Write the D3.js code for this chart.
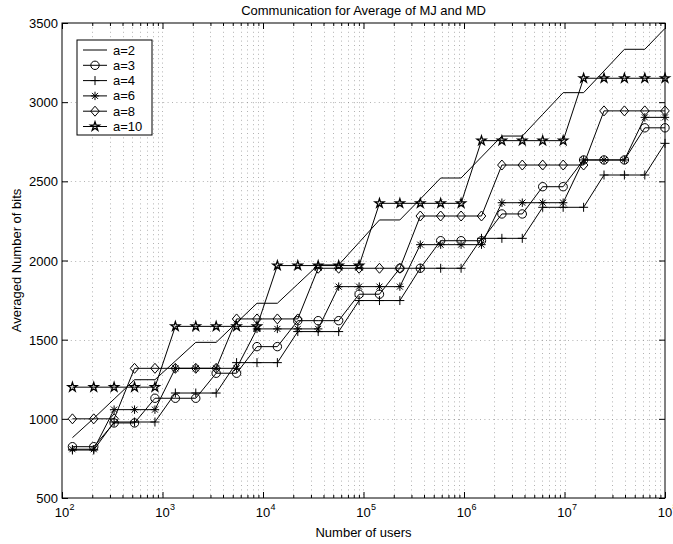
<!DOCTYPE html>
<html>
<head>
<meta charset="utf-8">
<script src="https://cdn.jsdelivr.net/npm/d3@7"></script>
<style>
  body { margin: 0; background: #fff; }
  svg { display: block; }
  text { font-family: "Liberation Sans", Arial, Helvetica, sans-serif; fill: #000; }
</style>
</head>
<body>
<svg id="chart" width="673" height="544"></svg>
<script>
// Number of users at each sample point
const users = [127, 207, 330, 527, 841, 1343, 2143, 3420, 5460, 8713,
  13900, 22190, 35410, 56620, 90360, 144200, 230100, 367300, 586100, 935400,
  1493000, 2382000, 3802000, 6067000, 9700000, 15490000, 24720000, 39450000, 62950000, 100000000];

// Averaged number of bits for each base a
const bitsA2 = [881, 1003, 1125, 1247, 1247, 1365, 1483, 1483, 1607, 1730,
  1730, 1851, 1972, 1972, 2114, 2256, 2256, 2388, 2521, 2521,
  2654, 2786, 2786, 2923, 3060, 3060, 3197, 3334, 3334, 3466];
const bitsA3 = [824, 824, 974, 974, 1130, 1130, 1130, 1288, 1288, 1456,
  1456, 1620, 1620, 1620, 1787, 1787, 1951, 1951, 2125, 2125,
  2125, 2294, 2294, 2466, 2466, 2635, 2635, 2635, 2838, 2838];
const bitsA4 = [803, 803, 980, 980, 980, 1163, 1163, 1163, 1355, 1355,
  1355, 1551, 1551, 1551, 1747, 1747, 1747, 1951, 1951, 1951,
  2140, 2140, 2140, 2336, 2336, 2336, 2540, 2540, 2540, 2740];
const bitsA6 = [808, 808, 1058, 1058, 1058, 1319, 1319, 1319, 1319, 1568,
  1568, 1568, 1568, 1835, 1835, 1835, 1835, 2100, 2100, 2100,
  2100, 2365, 2365, 2365, 2365, 2635, 2635, 2635, 2904, 2904];
const bitsA8 = [1000, 1000, 1000, 1319, 1319, 1319, 1319, 1319, 1631, 1631,
  1631, 1631, 1951, 1951, 1951, 1951, 1951, 2281, 2281, 2281,
  2281, 2603, 2603, 2603, 2603, 2603, 2945, 2945, 2945, 2945];
const bitsA10 = [1200, 1200, 1200, 1200, 1200, 1584, 1584, 1584, 1584, 1584,
  1968, 1968, 1968, 1968, 1968, 2361, 2361, 2361, 2361, 2361,
  2757, 2757, 2757, 2757, 2757, 3151, 3151, 3151, 3151, 3151];

const seriesNames = ["a=2", "a=3", "a=4", "a=6", "a=8", "a=10"];
const seriesValues = [bitsA2, bitsA3, bitsA4, bitsA6, bitsA8, bitsA10];
const seriesMarkers = ["none", "circle", "plus", "asterisk", "diamond", "star"];

const yTicks = [500, 1000, 1500, 2000, 2500, 3000, 3500];
const xDecades = [1e2, 1e3, 1e4, 1e5, 1e6, 1e7, 1e8];
const xExponents = ["2", "3", "4", "5", "6", "7", "8"];

const titleText = "Communication for Average of MJ and MD";
const xLabelText = "Number of users";
const yLabelText = "Averaged Number of bits";

// ---- layout ----
const plotLeft = 62, plotRight = 665, plotTop = 23, plotBottom = 498;
const svg = d3.select("#chart");

const x = d3.scaleLog().domain([1e2, 1e8]).range([plotLeft, plotRight]);
const y = d3.scaleLinear().domain([500, 3500]).range([plotBottom, plotTop]);

// minor log ticks 2..9 within each decade
const xMinor = [];
xDecades.slice(0, -1).forEach(d => { for (let m = 2; m <= 9; m++) xMinor.push(d * m); });

// ---- grid ----
const grid = svg.append("g").attr("stroke", "#000").attr("stroke-width", 0.6)
  .attr("stroke-dasharray", "1,3.4").attr("opacity", 0.5);
grid.selectAll("line.v").data(xDecades.slice(1, -1).concat(xMinor)).join("line")
  .attr("x1", d => Math.round(x(d)) + 0.5).attr("x2", d => Math.round(x(d)) + 0.5)
  .attr("y1", plotTop).attr("y2", plotBottom);
grid.selectAll("line.h").data(yTicks.slice(1, -1)).join("line")
  .attr("x1", plotLeft).attr("x2", plotRight)
  .attr("y1", d => Math.round(y(d)) + 0.5).attr("y2", d => Math.round(y(d)) + 0.5);

// ---- axes ----
function styleAxis(g) {
  g.select(".domain").remove();
  g.selectAll(".tick line").attr("stroke", "#000").attr("stroke-width", 1);
}
const fmtNone = () => "";

const xAxisB = svg.append("g").attr("transform", `translate(0,${plotBottom})`)
  .call(d3.axisBottom(x).tickValues(xDecades).tickSizeInner(-6).tickSizeOuter(0).tickFormat(fmtNone));
styleAxis(xAxisB);
const xAxisBm = svg.append("g").attr("transform", `translate(0,${plotBottom})`)
  .call(d3.axisBottom(x).tickValues(xMinor).tickSizeInner(-3).tickSizeOuter(0).tickFormat(fmtNone));
styleAxis(xAxisBm);
const xAxisT = svg.append("g").attr("transform", `translate(0,${plotTop})`)
  .call(d3.axisTop(x).tickValues(xDecades).tickSizeInner(-6).tickSizeOuter(0).tickFormat(fmtNone));
styleAxis(xAxisT);
const xAxisTm = svg.append("g").attr("transform", `translate(0,${plotTop})`)
  .call(d3.axisTop(x).tickValues(xMinor).tickSizeInner(-3).tickSizeOuter(0).tickFormat(fmtNone));
styleAxis(xAxisTm);

const yAxisL = svg.append("g").attr("transform", `translate(${plotLeft},0)`)
  .call(d3.axisLeft(y).tickValues(yTicks).tickSizeInner(-6).tickSizeOuter(0).tickPadding(4).tickFormat(d3.format("d")));
styleAxis(yAxisL);
yAxisL.selectAll(".tick text").attr("font-size", 13).attr("dy", "0.35em");
const yAxisR = svg.append("g").attr("transform", `translate(${plotRight},0)`)
  .call(d3.axisRight(y).tickValues(yTicks).tickSizeInner(-6).tickSizeOuter(0).tickFormat(fmtNone));
styleAxis(yAxisR);

// x tick labels as 10 with a superscript exponent
const xLab = svg.append("g");
xDecades.forEach((d, i) => {
  const cx = x(d);
  xLab.append("text").attr("x", cx).attr("y", plotBottom + 19).attr("text-anchor", "middle")
    .attr("font-size", 13).text("10");
  xLab.append("text").attr("x", cx + 7.5).attr("y", plotBottom + 12).attr("text-anchor", "start")
    .attr("font-size", 9).text(xExponents[i]);
});

// frame
svg.append("rect").attr("x", plotLeft).attr("y", plotTop)
  .attr("width", plotRight - plotLeft).attr("height", plotBottom - plotTop)
  .attr("fill", "none").attr("stroke", "#000").attr("stroke-width", 1);

// ---- markers ----
function markerPath(type) {
  switch (type) {
    case "circle": return d3.symbol(d3.symbolCircle, Math.PI * 4.2 * 4.2)();
    case "star": return d3.symbol(d3.symbolStar, 25)();
    case "diamond": return "M0,-5L4.3,0L0,5L-4.3,0Z";
    case "plus": return "M-4.5,0L4.5,0M0,-4.5L0,4.5";
    case "asterisk": return "M-4.2,0L4.2,0M0,-4.2L0,4.2M-3,-3L3,3M-3,3L3,-3";
    default: return null;
  }
}

const line = d3.line().x(d => x(d[0])).y(d => y(d[1]));

const plot = svg.append("g");
seriesValues.forEach((vals, si) => {
  const pts = users.map((u, i) => [u, vals[i]]);
  const g = plot.append("g");
  g.append("path").datum(pts).attr("d", line)
    .attr("fill", "none").attr("stroke", "#000").attr("stroke-width", 1);
  const mp = markerPath(seriesMarkers[si]);
  if (mp) {
    g.selectAll("path.m").data(pts).join("path").attr("class", "m")
      .attr("transform", d => `translate(${x(d[0])},${y(d[1])})`)
      .attr("d", mp).attr("fill", "none").attr("stroke", "#000")
      .attr("stroke-width", seriesMarkers[si] === "star" ? 1.3 : 1);
  }
});

// ---- legend ----
const lg = svg.append("g");
lg.append("rect").attr("x", 77).attr("y", 40).attr("width", 75).attr("height", 95)
  .attr("fill", "#fff").attr("stroke", "#000").attr("stroke-width", 1);
seriesNames.forEach((name, i) => {
  const ly = 50 + i * 15.3;
  lg.append("line").attr("x1", 83).attr("x2", 107).attr("y1", ly).attr("y2", ly)
    .attr("stroke", "#000").attr("stroke-width", 1);
  const mp = markerPath(seriesMarkers[i]);
  if (mp) {
    lg.append("path").attr("transform", `translate(95,${ly})`).attr("d", mp)
      .attr("fill", "none").attr("stroke", "#000")
      .attr("stroke-width", seriesMarkers[i] === "star" ? 1.3 : 1);
  }
  lg.append("text").attr("x", 113).attr("y", ly).attr("dy", "0.35em")
    .attr("font-size", 13).text(name);
});

// ---- titles ----
svg.append("text").attr("x", (plotLeft + plotRight) / 2).attr("y", 15).attr("text-anchor", "middle")
  .attr("font-size", 13).text(titleText);
svg.append("text").attr("x", (plotLeft + plotRight) / 2).attr("y", 537).attr("text-anchor", "middle")
  .attr("font-size", 13).text(xLabelText);
svg.append("text").attr("transform", `translate(21,${(plotTop + plotBottom) / 2}) rotate(-90)`)
  .attr("text-anchor", "middle").attr("font-size", 13).text(yLabelText);
</script>
</body>
</html>
